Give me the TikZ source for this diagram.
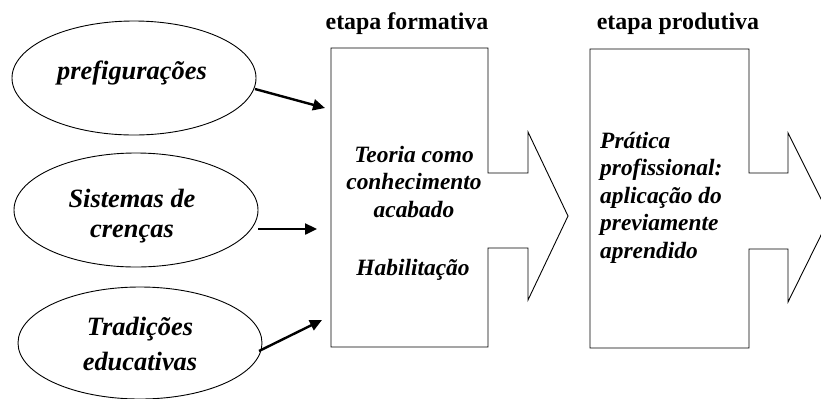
\documentclass[tikz,border=0pt]{standalone}
\usepackage{fontspec}
\setmainfont{Liberation Serif}
\usetikzlibrary{shapes.geometric,arrows.meta,calc}
\begin{document}
\begin{tikzpicture}[x=1bp,y=-1bp,
  oval/.style={draw,line width=0.9bp,ellipse,minimum width=244bp,minimum height=114bp,inner sep=0pt},
  otext/.style={font=\fontsize{26.5}{30}\selectfont\bfseries\itshape,align=center,inner sep=0pt,anchor=base},
  btext/.style={font=\fontsize{23.5}{27.5}\selectfont\bfseries\itshape,inner sep=0pt,anchor=base},
  head/.style={font=\fontsize{24}{28}\selectfont\bfseries,inner sep=0pt,anchor=base},
  feed/.style={line width=2.4bp,-{Triangle[length=12bp,width=11bp]}},
  stage/.style={draw,line width=0.9bp,line join=miter}]
\useasboundingbox (0,0) rectangle (821,398);
\begin{scope}
\clip (0,0) rectangle (821,398);
% ellipses
\node[oval] (e1) at (134,78) {};
\node[oval] (e2) at (136,210) {};
\node[oval,minimum height=112bp] (e3) at (140,343) {};
\node[otext] (t1) at (132,79) {prefigurações};
\node[otext] (t2) at (132,237) {Sistemas de\\crenças};
\node[otext,font=\fontsize{26.5}{35}\selectfont\bfseries\itshape] (t3) at (140,370) {Tradições\\educativas};
% stage shapes
\draw[stage] (331,48) -- (488,48) -- (488,173) -- (528,173) -- (528,132) -- (568,216)
  -- (528,300) -- (528,248) -- (488,248) -- (488,347) -- (331,347) -- cycle;
\draw[stage] (590,49) -- (749,49) -- (749,173) -- (788,173) -- (788,133) -- (830,217)
  -- (788,302) -- (788,249) -- (749,249) -- (749,348) -- (590,348) -- cycle;
\end{scope}
% headings
\node[head] (h1) at (407,29) {etapa formativa};
\node[head] (h2) at (678,29) {etapa produtiva};
% box texts
\node[btext,align=center] (b1) at (414,217) {Teoria como\\conhecimento\\acabado};
\node[btext] (b2) at (413,275) {Habilitação};
\node[btext,align=left,anchor=base west] (b3) at (600,258) {Prática\\profissional:\\aplicação do\\previamente\\aprendido};
% feeding arrows
\coordinate (a1) at (325,108);
\coordinate (a2) at (317,229);
\coordinate (a3) at (322,320);
\draw[feed] ($(e1.center)+(121,11)$) -- (a1);
\draw[feed] ($(e2.center)+(122,19)$) -- (a2);
\draw[feed] ($(e3.center)+(119,8)$) -- (a3);
\end{tikzpicture}
\end{document}
